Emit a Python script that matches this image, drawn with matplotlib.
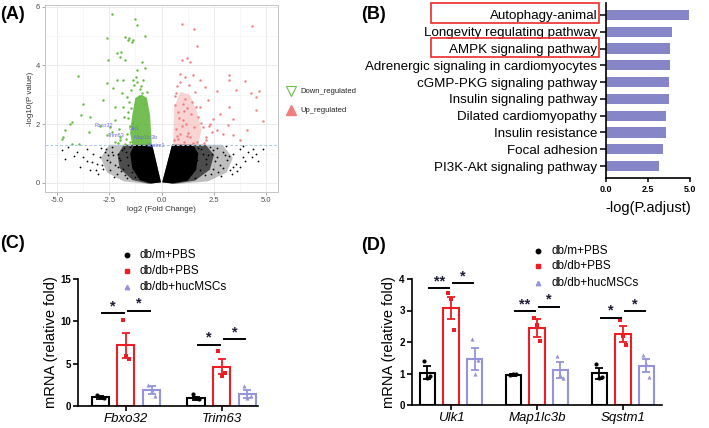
import matplotlib
matplotlib.use('Agg')
import matplotlib.pyplot as plt
from matplotlib.patches import Polygon, Rectangle
from matplotlib.lines import Line2D
import numpy as np

plt.rcParams['font.family'] = ['Liberation Sans', 'DejaVu Sans']

# ---------------- data ----------------
# (A) volcano: sparse points, dense cores as envelopes
green_x = [-2.38, -1.27, -1.19, -2.59, -1.75, -1.59, -1.43, -1.35, -0.79, -1.54, -2.14, -1.95,
           -1.98, -1.75, -2.54, -0.92, -1.19, -3.97, -2.62, -2.14, -1.83, -1.35, -1.19, -0.87,
           -2.30, -1.90, -1.67, -3.73, -2.78, -2.22, -3.83, -3.41, -4.29, -4.37, -4.60, -4.68,
           -4.76, -4.29, -3.92, -3.44, -2.94, -2.46, -2.22, -2.05, -1.98, -1.67, -1.51, -1.75,
           -2.22, -2.62, -2.38, -1.05, -0.95, -1.45, -1.60, -1.10, -0.70, -1.30, -0.85, -1.50,
           -1.62, -1.80, -1.55, -1.70, -2.00, -1.45, -1.20, -1.00, -0.80, -1.85, -1.40, -2.10]
green_y = [5.74, 5.58, 5.38, 4.92, 4.98, 4.86, 4.81, 4.86, 5.01, 4.95, 4.41, 4.47,
           4.30, 4.18, 4.18, 4.12, 3.84, 3.64, 3.39, 3.50, 3.50, 3.50, 3.44, 3.50,
           3.22, 3.05, 2.93, 2.70, 2.82, 2.59, 2.31, 2.25, 2.08, 2.00, 1.80, 1.57,
           1.51, 1.34, 1.34, 1.74, 1.93, 1.91, 2.14, 1.85, 1.57, 1.68, 1.40, 1.34,
           1.40, 1.63, 1.74, 3.20, 3.05, 2.55, 2.20, 2.95, 3.10, 3.35, 2.70, 1.95,
           2.40, 2.25, 2.75, 1.50, 1.45, 3.15, 3.60, 3.30, 3.90, 2.60, 2.05, 1.35]
red_x = [0.95, 1.54, 4.32, 1.70, 1.19, 0.95, 1.35, 3.22, 3.19, 3.97, 4.25, 4.65, 4.52,
         3.57, 2.62, 3.21, 4.52, 4.84, 3.41, 2.78, 2.46, 2.22, 2.06, 1.83, 1.51, 1.11,
         4.05, 2.62, 2.94, 3.41, 2.14, 3.73, 2.30, 1.98, 1.83, 1.75, 3.17, 0.75, 0.90,
         1.30, 1.60, 0.65, 1.00, 1.45, 1.90, 2.40, 2.10, 0.80, 1.20, 1.70,
         0.60, 0.70, 0.85, 1.05, 1.15, 1.25, 1.40, 0.62, 0.78, 0.95, 1.10, 1.35,
         1.55, 0.68, 0.88, 1.02, 1.22, 1.48, 2.00, 2.25, 1.65, 0.72, 1.05, 0.90]
red_y = [5.41, 5.24, 5.34, 4.67, 4.27, 4.18, 4.12, 3.67, 3.50, 3.48, 3.07, 3.14, 2.93,
         3.18, 3.14, 2.59, 2.48, 2.11, 2.19, 2.36, 2.19, 2.82, 3.27, 3.50, 3.67, 3.61,
         1.80, 1.80, 1.68, 1.63, 1.57, 1.45, 2.02, 1.91, 2.59, 2.25, 1.97, 3.30, 3.70,
         3.35, 3.10, 2.95, 2.70, 2.75, 2.05, 1.75, 1.45, 1.50, 1.60, 1.40,
         1.45, 1.85, 2.20, 2.45, 2.00, 1.70, 2.35, 2.65, 2.40, 1.95, 2.85, 1.55,
         1.90, 3.05, 1.65, 2.15, 2.55, 1.35, 1.35, 1.95, 2.60, 1.60, 1.40, 3.45]
black_x = [-4.76, -4.60, -4.44, -4.05, -3.73, -3.57, -3.25, -3.10, -2.94, -2.78, -2.70, -2.62,
           -2.46, -2.30, -2.22, -2.14, -1.98, -1.90, -1.83, -1.75, -1.67, -1.59, -1.51, -1.43,
           -1.35, -1.27, -3.89, -3.41, -3.02, -2.06, -2.38, -2.90, -2.55, -1.70, -3.30, -4.20,
           -2.10, -2.45, -1.95, -2.65, -2.25, -2.05, -1.80, -2.85, -3.15, -3.55, -2.35, -1.65,
           1.19, 1.43, 1.67, 1.83, 1.98, 2.14, 2.30, 2.46, 2.62, 2.78, 2.94, 3.10,
           3.25, 3.41, 3.57, 3.73, 3.89, 4.13, 4.29, 4.37, 4.84, 4.52, 2.06, 1.59,
           2.70, 3.41, 1.90, 2.46, 1.51, 1.27, 3.05, 3.60, 2.20, 4.00, 2.85, 1.75,
           2.55, 2.35, 2.95, 3.20, 2.65, 3.35, 3.75, 2.10, 3.00, 3.90, 2.40, 4.60]
black_y = [1.11, 0.80, 1.23, 1.06, 0.89, 1.17, 1.00, 0.66, 0.89, 0.49, 1.06, 0.77,
           0.43, 0.94, 0.60, 0.32, 0.77, 1.11, 0.49, 0.26, 0.89, 0.60, 1.23, 0.38,
           0.77, 0.20, 0.55, 0.43, 0.32, 1.00, 1.23, 1.20, 0.95, 1.05, 0.70, 0.90,
           0.55, 0.70, 0.40, 1.15, 0.20, 0.85, 1.20, 0.60, 0.45, 0.75, 1.05, 0.15,
           0.32, 0.55, 0.77, 0.43, 1.00, 0.66, 1.23, 0.49, 0.89, 0.60, 1.06, 0.77,
           0.43, 1.00, 0.66, 1.17, 0.89, 1.06, 0.89, 1.17, 1.17, 1.00, 0.26, 0.15,
           0.38, 0.55, 1.17, 1.11, 1.06, 0.89, 1.25, 0.40, 0.95, 0.75, 0.25, 1.20,
           0.75, 0.30, 0.50, 0.90, 1.20, 0.30, 0.55, 0.80, 0.95, 1.25, 1.00, 0.75]
core_left = [(-0.03, 0.02), (-0.45, 1.3), (-1.3, 1.3), (-1.5, 1.0), (-1.4, 0.5), (-1.05, 0.1), (-0.5, -0.02)]
mid_left = [(-0.03, 0.02), (-0.45, 1.3), (-1.8, 1.3), (-2.1, 0.95), (-2.0, 0.5), (-1.4, 0.1), (-0.6, -0.03)]
halo_left = [(-0.03, 0.02), (-0.45, 1.3), (-2.5, 1.3), (-2.9, 0.85), (-2.6, 0.35), (-1.8, 0.05), (-0.7, -0.03)]
core_right = [(0.03, 0.02), (0.5, 1.3), (1.5, 1.3), (1.75, 1.0), (1.65, 0.45), (1.25, 0.08), (0.5, -0.02)]
mid_right = [(0.03, 0.02), (0.5, 1.3), (2.1, 1.3), (2.5, 0.95), (2.3, 0.45), (1.6, 0.08), (0.6, -0.03)]
halo_right = [(0.03, 0.02), (0.5, 1.3), (2.9, 1.3), (3.4, 0.85), (3.1, 0.35), (2.2, 0.05), (0.8, -0.03)]
green_core = [(-0.47, 1.3), (-1.4, 1.3), (-1.5, 1.7), (-1.4, 2.3), (-1.25, 2.9), (-0.95, 3.0), (-0.7, 2.9), (-0.55, 2.3)]
red_core = [(0.55, 1.3), (1.75, 1.3), (1.9, 1.8), (1.7, 2.4), (1.35, 3.0), (0.9, 3.1), (0.6, 2.6)]
gene_names = ['Fbxo32', 'Trim63', 'Ulk1', 'Map1lc3b', 'Sqstm1']
gene_fc = [-2.78, -2.14, -1.32, -0.76, -0.24]
gene_p = [1.94, 1.63, 1.85, 1.53, 1.26]

# (B) KEGG enrichment
pathways = ['Autophagy-animal', 'Longevity regulating pathway', 'AMPK signaling pathway',
            'Adrenergic signaling in cardiomyocytes', 'cGMP-PKG signaling pathway',
            'Insulin signaling pathway', 'Dilated cardiomyopathy', 'Insulin resistance',
            'Focal adhesion', 'PI3K-Akt signaling pathway']
neglogp = [4.94, 3.91, 3.82, 3.82, 3.73, 3.73, 3.60, 3.60, 3.42, 3.18]

# (C) qPCR atrophy genes
genes_c = ['Fbxo32', 'Trim63']
c_mean = {'db/m+PBS': [1.03, 0.90], 'db/db+PBS': [7.15, 4.65], 'db/db+hucMSCs': [1.90, 1.45]}
c_sem = {'db/m+PBS': [0.15, 0.22], 'db/db+PBS': [1.50, 0.90], 'db/db+hucMSCs': [0.50, 0.45]}
c_pts = {'db/m+PBS': [[1.25, 1.10, 0.95], [1.42, 0.90, 0.80]],
         'db/db+PBS': [[10.2, 5.9, 5.5], [6.55, 3.6, 3.95]],
         'db/db+hucMSCs': [[2.5, 1.9, 1.2], [2.37, 0.9, 1.2]]}
c_sig = [['*', '*'], ['*', '*']]
c_sig_y = [[10.97, 11.25], [7.22, 7.9]]

# (D) qPCR autophagy genes
genes_d = ['Ulk1', 'Map1lc3b', 'Sqstm1']
d_mean = {'db/m+PBS': [1.03, 0.96, 1.01], 'db/db+PBS': [3.08, 2.45, 2.26], 'db/db+hucMSCs': [1.46, 1.11, 1.25]}
d_sem = {'db/m+PBS': [0.20, 0.04, 0.18], 'db/db+PBS': [0.36, 0.28, 0.26], 'db/db+hucMSCs': [0.35, 0.24, 0.21]}
d_pts = {'db/m+PBS': [[1.41, 0.87, 0.93], [0.95, 1.00, 0.97], [1.30, 0.87, 0.90]],
         'db/db+PBS': [[3.54, 3.35, 2.39], [2.77, 2.55, 2.03], [2.71, 2.20, 1.92]],
         'db/db+hucMSCs': [[2.10, 1.00, 1.43], [1.54, 0.95, 0.87], [1.60, 1.30, 0.90]]}
d_sig = [['**', '*'], ['**', '*'], ['*', '*']]
d_sig_y = [[3.70, 3.86], [2.98, 3.12], [2.77, 2.98]]

groups = ['db/m+PBS', 'db/db+PBS', 'db/db+hucMSCs']
gcolors = {'db/m+PBS': 'black', 'db/db+PBS': '#ee1d23', 'db/db+hucMSCs': '#9494da'}
gmarkers = {'db/m+PBS': 'o', 'db/db+PBS': 's', 'db/db+hucMSCs': '^'}

# ---------------- figure ----------------
W, H = 709, 428
fig = plt.figure(figsize=(W / 100, H / 100), dpi=100)


def ax_px(l, t, r, b):
    return fig.add_axes([l / W, 1 - b / H, (r - l) / W, (b - t) / H])


# ---- (A) volcano ----
axA = ax_px(45, 5, 278, 192)
axA.set_xlim(-5.56, 5.55)
axA.set_ylim(-0.31, 6.06)
axA.set_xticks([-5, -2.5, 0, 2.5, 5])
axA.set_xticklabels(['-5.0', '-2.5', '0.0', '2.5', '5.0'])
axA.set_yticks([0, 2, 4, 6])
axA.set_xticks([-3.75, -1.25, 1.25, 3.75], minor=True)
axA.set_yticks([1, 3, 5], minor=True)
axA.grid(which='major', color='#ebebeb', lw=0.7)
axA.grid(which='minor', color='#f4f4f4', lw=0.5)
axA.set_axisbelow(True)
for s in axA.spines.values():
    s.set_color('#c4c4c4')
    s.set_linewidth(0.7)
axA.tick_params(which='major', labelsize=5.5, labelcolor='#4d4d4d', color='#888888',
                length=2, width=0.5, pad=1.5)
axA.tick_params(which='minor', length=0)
axA.set_xlabel('log2 (Fold Change)', fontsize=5.8, color='#333333', labelpad=1.5)
axA.set_ylabel('-log10(P value)', fontsize=5.8, color='#333333', labelpad=1.5)

for poly in (halo_left, halo_right):
    axA.add_patch(Polygon(poly, closed=True, fc='black', ec='none', alpha=0.25, zorder=2))
for poly in (mid_left, mid_right):
    axA.add_patch(Polygon(poly, closed=True, fc='black', ec='none', alpha=0.6, zorder=2))
for poly in (core_left, core_right):
    axA.add_patch(Polygon(poly, closed=True, fc='black', ec='none', zorder=2))
axA.scatter(black_x, black_y, s=1.6, c='black', lw=0, zorder=3)
axA.add_patch(Polygon(green_core, closed=True, fc='#5ab435', ec='none', alpha=0.85, zorder=3))
axA.add_patch(Polygon(red_core, closed=True, fc='#f6b0b0', ec='none', alpha=0.55, zorder=3))
axA.scatter(green_x, green_y, s=3, c='#62ba3e', lw=0, zorder=4)
axA.scatter(red_x, red_y, s=3, c='#f27d7d', lw=0, zorder=4)
axA.axhline(1.3, color='#a9c8ec', lw=0.7, ls=(0, (3, 2)), zorder=5)
for name, fx, py in zip(gene_names, gene_fc, gene_p):
    axA.text(fx, py, name, fontsize=4, color='#6f6fd6', ha='center', va='center', zorder=6)

# ---- (B) KEGG bars ----
axB = ax_px(605.7, 3, 690, 178)
ypos = np.arange(len(pathways))
axB.barh(ypos, neglogp, height=0.6, color='#8585c8')
axB.set_ylim(len(pathways) - 0.29, -0.71)
axB.set_xlim(0, 5)
axB.set_yticks(ypos)
axB.set_yticklabels(pathways, fontsize=9.6)
axB.set_xticks([0, 2.5, 5])
axB.set_xticklabels(['0.0', '2.5', '5.0'], fontsize=6.5, fontweight='bold')
for side in ('top', 'right'):
    axB.spines[side].set_visible(False)
for side in ('left', 'bottom'):
    axB.spines[side].set_linewidth(1.2)
axB.tick_params(axis='y', length=4, width=1.1, pad=2)
axB.tick_params(axis='x', length=3, width=1.1, pad=2)
axB.set_xlabel('-log(P.adjust)', fontsize=10.5, labelpad=5)


def qpcr(ax, genes, means, sems, pts, sigs, sig_ys, off, width, star_fs):
    xs = np.arange(len(genes))
    for gi, g in enumerate(groups):
        col = gcolors[g]
        x = xs + off[gi]
        ax.bar(x, means[g], width=width, fill=False, edgecolor=col, lw=1.5, zorder=2)
        ax.errorbar(x, means[g], yerr=sems[g], fmt='none', ecolor=col, elinewidth=1.3,
                    capsize=3.2, capthick=1.3, zorder=3)
        for k in range(len(genes)):
            ax.scatter(x[k] + np.array([-0.035, 0.0, 0.035]), pts[g][k], s=9,
                       marker=gmarkers[g], color=col, lw=0, zorder=4)
    for k in range(len(genes)):
        for j in range(2):
            x1 = xs[k] + off[j] + 0.02
            x2 = xs[k] + off[j + 1] - 0.02
            yy = sig_ys[k][j]
            ax.plot([x1, x2], [yy, yy], color='black', lw=1.4, zorder=5)
            ax.text((x1 + x2) / 2, yy, sigs[k][j], ha='center', va='bottom',
                    fontsize=star_fs, fontweight='bold', color='#1c1c38')
    ax.set_xticks(xs)
    ax.set_xticklabels(genes, fontsize=9.5, fontstyle='italic')
    for side in ('top', 'right'):
        ax.spines[side].set_visible(False)
    for side in ('left', 'bottom'):
        ax.spines[side].set_linewidth(1.2)
    ax.tick_params(axis='both', length=3.5, width=1.2, pad=1.5)
    for lab in ax.get_yticklabels():
        lab.set_fontsize(7)
        lab.set_fontweight('bold')
    ax.set_ylabel('mRNA (relative fold)', fontsize=10.5, labelpad=2)


# ---- (C) ----
axC = ax_px(78, 279, 258, 406)
axC.set_xlim(-0.5, 1.38)
axC.set_ylim(0, 15)
axC.set_yticks([0, 5, 10, 15])
qpcr(axC, genes_c, c_mean, c_sem, c_pts, c_sig, c_sig_y, [-0.268, 0, 0.268], 0.18, 10.5)

# ---- (D) ----
axD = ax_px(411.7, 279, 662, 405)
axD.set_xlim(-0.457, 2.456)
axD.set_ylim(0, 4)
axD.set_yticks([0, 1, 2, 3, 4])
qpcr(axD, genes_d, d_mean, d_sem, d_pts, d_sig, d_sig_y, [-0.274, 0, 0.274], 0.18, 10.5)

# ---- overlay: panel letters, legends, highlight boxes ----
ov = fig.add_axes([0, 0, 1, 1], zorder=10)
ov.set_xlim(0, W)
ov.set_ylim(H, 0)
ov.axis('off')
for lab, x, y in (('(A)', 0, 14), ('(B)', 361, 14), ('(C)', 0, 243), ('(D)', 361, 245)):
    ov.text(x, y, lab, fontsize=13, fontweight='bold', va='center', ha='left')

ov.add_line(Line2D([291], [91], marker='v', ms=6.5, mfc='none', mec='#6cc04a', mew=0.8))
ov.add_line(Line2D([291], [110], marker='^', ms=6.5, mfc='#f27d7d', mec='#f27d7d'))
ov.text(300, 91, 'Down_regulated', fontsize=5.5, va='center', color='#222222')
ov.text(300, 110, 'Up_regulated', fontsize=5.5, va='center', color='#222222')

for y0, y1 in ((3, 23), (38, 57)):
    ov.add_patch(Rectangle((431, y0), 168, y1 - y0, fill=False, ec='#ee2a2a', lw=1.2))

for (mx, tx, rows) in ((127, 140, (255, 271, 287)), (538, 552, (251, 266, 283))):
    for g, yy in zip(groups, rows):
        ov.add_line(Line2D([mx], [yy], marker=gmarkers[g], ms=3.2, color=gcolors[g], lw=0))
        ov.text(tx, yy, g, fontsize=8.5, va='center')

fig.savefig('out.png', dpi=100)
